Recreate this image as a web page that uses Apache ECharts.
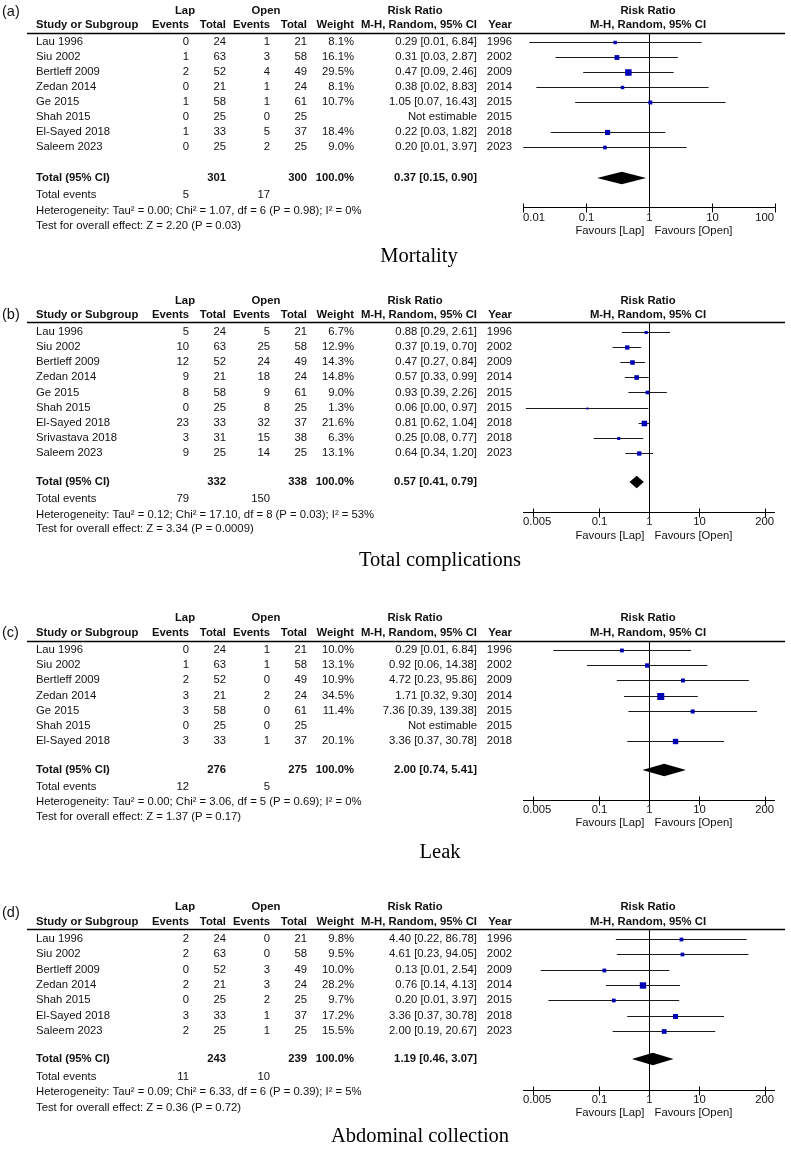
<!DOCTYPE html>
<html><head><meta charset="utf-8">
<script src="https://cdn.jsdelivr.net/npm/echarts@6/dist/echarts.min.js"></script>
<style>html,body{margin:0;padding:0;background:#fff}#c{width:791px;height:1149px}</style>
</head><body><div id="c"></div>
<script>
// ================= DATA =================
// (a) Mortality
const mortStudies = ['Lau 1996','Siu 2002','Bertleff 2009','Zedan 2014','Ge 2015','Shah 2015','El-Sayed 2018','Saleem 2023'];
const mortLapEvents = [0,1,2,0,1,0,1,0];
const mortLapTotal = [24,63,52,21,58,25,33,25];
const mortOpenEvents = [1,3,4,1,1,0,5,2];
const mortOpenTotal = [21,58,49,24,61,25,37,25];
const mortWeight = [8.1,16.1,29.5,8.1,10.7,null,18.4,9.0];
const mortRR = [0.29,0.31,0.47,0.38,1.05,null,0.22,0.20];
const mortLower = [0.0126,0.0328,0.0903,0.0163,0.0673,null,0.0276,0.0101];
const mortUpper = [6.84,2.87,2.46,8.83,16.43,null,1.82,3.97];
const mortYear = [1996,2002,2009,2014,2015,2015,2018,2023];
const mortTotals = [301,300];
const mortTotalEvents = [5,17];
const mortOverall = [0.37,0.15,0.90];
const mortHet = 'Heterogeneity: Tau\u00b2 = 0.00; Chi\u00b2 = 1.07, df = 6 (P = 0.98); I\u00b2 = 0%';
const mortTest = 'Test for overall effect: Z = 2.20 (P = 0.03)';

// (b) Total complications
const compStudies = ['Lau 1996','Siu 2002','Bertleff 2009','Zedan 2014','Ge 2015','Shah 2015','El-Sayed 2018','Srivastava 2018','Saleem 2023'];
const compLapEvents = [5,10,12,9,8,0,23,3,9];
const compLapTotal = [24,63,52,21,58,25,33,31,25];
const compOpenEvents = [5,25,24,18,9,8,32,15,14];
const compOpenTotal = [21,58,49,24,61,25,37,38,25];
const compWeight = [6.7,12.9,14.3,14.8,9.0,1.3,21.6,6.3,13.1];
const compRR = [0.88,0.37,0.47,0.57,0.93,0.06,0.81,0.25,0.64];
const compLower = [0.29,0.19,0.27,0.33,0.39,0.0036,0.62,0.08,0.34];
const compUpper = [2.61,0.70,0.84,0.99,2.26,0.97,1.04,0.77,1.20];
const compYear = [1996,2002,2009,2014,2015,2015,2018,2018,2023];
const compTotals = [332,338];
const compTotalEvents = [79,150];
const compOverall = [0.57,0.41,0.79];
const compHet = 'Heterogeneity: Tau\u00b2 = 0.12; Chi\u00b2 = 17.10, df = 8 (P = 0.03); I\u00b2 = 53%';
const compTest = 'Test for overall effect: Z = 3.34 (P = 0.0009)';

// (c) Leak
const leakStudies = ['Lau 1996','Siu 2002','Bertleff 2009','Zedan 2014','Ge 2015','Shah 2015','El-Sayed 2018'];
const leakLapEvents = [0,1,2,3,3,0,3];
const leakLapTotal = [24,63,52,21,58,25,33];
const leakOpenEvents = [1,1,0,2,0,0,1];
const leakOpenTotal = [21,58,49,24,61,25,37];
const leakWeight = [10.0,13.1,10.9,34.5,11.4,null,20.1];
const leakRR = [0.29,0.92,4.72,1.71,7.36,null,3.36];
const leakLower = [0.0126,0.059,0.23,0.32,0.39,null,0.37];
const leakUpper = [6.84,14.38,95.86,9.30,139.38,null,30.78];
const leakYear = [1996,2002,2009,2014,2015,2015,2018];
const leakTotals = [276,275];
const leakTotalEvents = [12,5];
const leakOverall = [2.00,0.74,5.41];
const leakHet = 'Heterogeneity: Tau\u00b2 = 0.00; Chi\u00b2 = 3.06, df = 5 (P = 0.69); I\u00b2 = 0%';
const leakTest = 'Test for overall effect: Z = 1.37 (P = 0.17)';

// (d) Abdominal collection
const collStudies = ['Lau 1996','Siu 2002','Bertleff 2009','Zedan 2014','Shah 2015','El-Sayed 2018','Saleem 2023'];
const collLapEvents = [2,2,0,2,0,3,2];
const collLapTotal = [24,63,52,21,25,33,25];
const collOpenEvents = [0,0,3,3,2,1,1];
const collOpenTotal = [21,58,49,24,25,37,25];
const collWeight = [9.8,9.5,10.0,28.2,9.7,17.2,15.5];
const collRR = [4.40,4.61,0.13,0.76,0.20,3.36,2.00];
const collLower = [0.22,0.23,0.0071,0.14,0.0101,0.37,0.19];
const collUpper = [86.78,94.05,2.54,4.13,3.97,30.78,20.67];
const collYear = [1996,2002,2009,2014,2015,2018,2023];
const collTotals = [243,239];
const collTotalEvents = [11,10];
const collOverall = [1.19,0.46,3.07];
const collHet = 'Heterogeneity: Tau\u00b2 = 0.09; Chi\u00b2 = 6.33, df = 6 (P = 0.39); I\u00b2 = 5%';
const collTest = 'Test for overall effect: Z = 0.36 (P = 0.72)';

// axis ticks
const ticksA = [0.01,0.1,1,10,100];
const tickLabelsA = ['0.01','0.1','1','10','100'];
const ticksB = [0.005,0.1,1,10,200];
const tickLabelsB = ['0.005','0.1','1','10','200'];

const panelLetters = ['(a)','(b)','(c)','(d)'];
const panelTitles = ['Mortality','Total complications','Leak','Abdominal collection'];

// ================= BUILD =================
const panels = [
  {studies:mortStudies, lapE:mortLapEvents, lapT:mortLapTotal, openE:mortOpenEvents, openT:mortOpenTotal, weight:mortWeight, rr:mortRR, lo:mortLower, hi:mortUpper, year:mortYear, totals:mortTotals, totEv:mortTotalEvents, overall:mortOverall, het:mortHet, test:mortTest, ticks:ticksA, tickLabels:tickLabelsA},
  {studies:compStudies, lapE:compLapEvents, lapT:compLapTotal, openE:compOpenEvents, openT:compOpenTotal, weight:compWeight, rr:compRR, lo:compLower, hi:compUpper, year:compYear, totals:compTotals, totEv:compTotalEvents, overall:compOverall, het:compHet, test:compTest, ticks:ticksB, tickLabels:tickLabelsB},
  {studies:leakStudies, lapE:leakLapEvents, lapT:leakLapTotal, openE:leakOpenEvents, openT:leakOpenTotal, weight:leakWeight, rr:leakRR, lo:leakLower, hi:leakUpper, year:leakYear, totals:leakTotals, totEv:leakTotalEvents, overall:leakOverall, het:leakHet, test:leakTest, ticks:ticksB, tickLabels:tickLabelsB},
  {studies:collStudies, lapE:collLapEvents, lapT:collLapTotal, openE:collOpenEvents, openT:collOpenTotal, weight:collWeight, rr:collRR, lo:collLower, hi:collUpper, year:collYear, totals:collTotals, totEv:collTotalEvents, overall:collOverall, het:collHet, test:collTest, ticks:ticksB, tickLabels:tickLabelsB}
];

// layout (rows are in units of study rows; positions in px for table columns)
const W = 791;
const COL = {study:36, lapE:189, lapT:226, openE:270, openT:307, weight:354, ci:477, year:512,
             lapHead:185, openHead:266, rrHead:415, plotHead:648, letter:2, ulFrom:27, ulTo:785};
const WIDE_MIN = Math.pow(10,-2.5), WIDE_MAX = Math.pow(10,2.5);
const LAYOUT = [
  {y0:42,  step:15.0,  h1:-2.07, h2:-1.13, ul:-0.6,  tot:9.07, ev:10.2,  het:11.27, test:12.27, axis:11.0,  tick:11.73, fav:12.6,  letter:-2.0,  xMin:0.01, xMax:100, titleX:419, titleY:257},
  {y0:332, step:15.1,  h1:-2.05, h2:-1.13, ul:-0.66, tot:9.93, ev:11.06, het:12.12, test:13.05, axis:11.92, tick:12.58, fav:13.5,  letter:-1.13, xMin:WIDE_MIN, xMax:WIDE_MAX, titleX:440, titleY:561},
  {y0:650, step:15.17, h1:-2.1,  h2:-1.12, ul:-0.59, tot:7.91, ev:9.03,  het:10.02, test:11.0,  axis:9.89,  tick:10.55, fav:11.4,  letter:-1.12, xMin:WIDE_MIN, xMax:WIDE_MAX, titleX:440, titleY:853},
  {y0:939, step:15.3,  h1:-2.09, h2:-1.11, ul:-0.65, tot:7.84, ev:9.02,  het:10.0,  test:11.05, axis:9.87,  tick:10.52, fav:11.37, letter:-1.7,  xMin:WIDE_MIN, xMax:WIDE_MAX, titleX:420, titleY:1137}
];
const PLOT_LEFT = 523, PLOT_WIDTH = 252;
const SANS = '"Liberation Sans", Arial, Helvetica, sans-serif';
const FS = 11.3;
const TXT = '#111';
const BLUE = '#0000b4';

function font(bold, size) { return (bold ? 'bold ' : '') + (size || FS) + 'px ' + SANS; }
function textEl(x, y, text, align, f) {
  return {type:'text', x:x, y:y, style:{text:text, font:f, fill:TXT, align:align, verticalAlign:'middle', textAlign:align, textVerticalAlign:'middle'}};
}
function ciText(r, l, h) { return r.toFixed(2) + ' [' + l.toFixed(2) + ', ' + h.toFixed(2) + ']'; }

function buildCells(P, L, k) {
  const cells = [];
  const T = (x, row, text, align, bold, size) => cells.push({kind:'text', x, row, text, align, bold, size});
  T(COL.letter, L.letter, panelLetters[k], 'left', false, 14.5);
  T(COL.lapHead, L.h1, 'Lap', 'center', true);
  T(COL.openHead, L.h1, 'Open', 'center', true);
  T(COL.rrHead, L.h1, 'Risk Ratio', 'center', true);
  T(COL.plotHead, L.h1, 'Risk Ratio', 'center', true);
  T(COL.study, L.h2, 'Study or Subgroup', 'left', true);
  T(COL.lapE, L.h2, 'Events', 'right', true);
  T(COL.lapT, L.h2, 'Total', 'right', true);
  T(COL.openE, L.h2, 'Events', 'right', true);
  T(COL.openT, L.h2, 'Total', 'right', true);
  T(COL.weight, L.h2, 'Weight', 'right', true);
  T(COL.ci, L.h2, 'M-H, Random, 95% CI', 'right', true);
  T(COL.year, L.h2, 'Year', 'right', true);
  T(COL.plotHead, L.h2, 'M-H, Random, 95% CI', 'center', true);
  cells.push({kind:'hline', x:COL.ulFrom, x2:COL.ulTo, row:L.ul});
  P.studies.forEach((s, i) => {
    T(COL.study, i, s, 'left');
    T(COL.lapE, i, String(P.lapE[i]), 'right');
    T(COL.lapT, i, String(P.lapT[i]), 'right');
    T(COL.openE, i, String(P.openE[i]), 'right');
    T(COL.openT, i, String(P.openT[i]), 'right');
    if (P.weight[i] != null) T(COL.weight, i, P.weight[i].toFixed(1) + '%', 'right');
    T(COL.ci, i, P.rr[i] == null ? 'Not estimable' : ciText(P.rr[i], P.lo[i], P.hi[i]), 'right');
    T(COL.year, i, String(P.year[i]), 'right');
  });
  T(COL.study, L.tot, 'Total (95% CI)', 'left', true);
  T(COL.lapT, L.tot, String(P.totals[0]), 'right', true);
  T(COL.openT, L.tot, String(P.totals[1]), 'right', true);
  T(COL.weight, L.tot, '100.0%', 'right', true);
  T(COL.ci, L.tot, ciText(P.overall[0], P.overall[1], P.overall[2]), 'right', true);
  T(COL.study, L.ev, 'Total events', 'left');
  T(COL.lapE, L.ev, String(P.totEv[0]), 'right');
  T(COL.openE, L.ev, String(P.totEv[1]), 'right');
  T(COL.study, L.het, P.het, 'left');
  T(COL.study, L.test, P.test, 'left');
  return cells;
}

const grid = [], xAxis = [], yAxis = [], series = [], graphic = [];
panels.forEach((P, k) => {
  const L = LAYOUT[k];
  const yMin = -3, yMax = L.fav + 1.5;
  const top = L.y0 + yMin * L.step, height = (yMax - yMin) * L.step;
  grid.push({left:0, width:W, top:top, height:height, outerBoundsMode:'none'});
  grid.push({left:PLOT_LEFT, width:PLOT_WIDTH, top:top, height:height, outerBoundsMode:'none'});
  xAxis.push({type:'value', gridIndex:2*k, min:0, max:W, show:false});
  xAxis.push({type:'log', logBase:10, gridIndex:2*k+1, min:L.xMin, max:L.xMax, show:false});
  yAxis.push({type:'value', gridIndex:2*k, min:yMin, max:yMax, inverse:true, show:false});
  yAxis.push({type:'value', gridIndex:2*k+1, min:yMin, max:yMax, inverse:true, show:false});
  const ti = 2*k, pi = 2*k+1;

  // table text
  const cells = buildCells(P, L, k);
  series.push({
    type:'custom', xAxisIndex:ti, yAxisIndex:ti, silent:true, animation:false,
    data: cells.map(c => [c.x, c.row]),
    renderItem: (params, api) => {
      const c = cells[params.dataIndex];
      const p = api.coord([api.value(0), api.value(1)]);
      if (c.kind === 'hline') {
        const p2 = api.coord([c.x2, api.value(1)]);
        const y = Math.round(p[1]) + 0.5;
        return {type:'line', shape:{x1:p[0], y1:y, x2:p2[0], y2:y}, style:{stroke:'#000', lineWidth:1.3}};
      }
      return textEl(p[0], p[1], c.text, c.align, font(c.bold, c.size));
    }
  });

  // reference line at 1 and axis line
  series.push({
    type:'custom', xAxisIndex:pi, yAxisIndex:pi, silent:true, animation:false,
    data: [[1, L.ul, L.axis]],
    renderItem: (params, api) => {
      const pTop = api.coord([api.value(0), api.value(1)]);
      const pBot = api.coord([api.value(0), api.value(2)]);
      const pL = api.coord([L.xMin, api.value(2)]);
      const pR = api.coord([L.xMax, api.value(2)]);
      const x = Math.round(pTop[0]) + 0.5, y = Math.round(pBot[1]) + 0.5;
      const favY = api.coord([1, L.fav])[1];
      return {type:'group', children:[
        {type:'line', shape:{x1:x, y1:pTop[1], x2:x, y2:y}, style:{stroke:'#000', lineWidth:1}},
        {type:'line', shape:{x1:pL[0], y1:y, x2:pR[0], y2:y}, style:{stroke:'#000', lineWidth:1}},
        textEl(x - 5, favY, 'Favours [Lap]', 'right', font(false)),
        textEl(x + 5, favY, 'Favours [Open]', 'left', font(false))
      ]};
    }
  });

  // ticks & tick labels
  series.push({
    type:'custom', xAxisIndex:pi, yAxisIndex:pi, silent:true, animation:false,
    data: P.ticks.map(t => [t, L.axis]),
    renderItem: (params, api) => {
      const i = params.dataIndex, n = P.ticks.length;
      const p = api.coord([api.value(0), api.value(1)]);
      const x = Math.round(p[0]) + 0.5, y = Math.round(p[1]) + 0.5;
      const ly = api.coord([api.value(0), L.tick])[1];
      let lx = x, al = 'center';
      if (i === 0) { lx = api.coord([L.xMin, L.axis])[0]; al = 'left'; }
      if (i === n - 1) { lx = api.coord([L.xMax, L.axis])[0] - 1; al = 'right'; }
      return {type:'group', children:[
        {type:'line', shape:{x1:x, y1:y - 4, x2:x, y2:y + 5}, style:{stroke:'#000', lineWidth:1}},
        textEl(lx, ly, P.tickLabels[i], al, font(false))
      ]};
    }
  });

  // study CIs and weighted squares
  const fdata = [];
  P.rr.forEach((r, i) => { if (r != null) fdata.push([r, P.lo[i], P.hi[i], i, P.weight[i]]); });
  series.push({
    type:'custom', xAxisIndex:pi, yAxisIndex:pi, silent:true, animation:false,
    encode:{x:[0,1,2], y:3},
    data: fdata,
    renderItem: (params, api) => {
      const row = api.value(3);
      const pe = api.coord([api.value(0), row]);
      const pl = api.coord([api.value(1), row]);
      const ph = api.coord([api.value(2), row]);
      const s = Math.max(2, 1.2 * Math.sqrt(api.value(4)));
      const y = Math.round(pe[1]) + 0.5;
      return {type:'group', children:[
        {type:'line', shape:{x1:pl[0], y1:y, x2:ph[0], y2:y}, style:{stroke:'#1a1a1a', lineWidth:1}},
        {type:'rect', shape:{x:pe[0] - s/2, y:y - s/2, width:s, height:s}, style:{fill:BLUE}}
      ]};
    }
  });

  // overall diamond
  series.push({
    type:'custom', xAxisIndex:pi, yAxisIndex:pi, silent:true, animation:false,
    encode:{x:[0,1,2], y:3},
    data: [[P.overall[0], P.overall[1], P.overall[2], L.tot]],
    renderItem: (params, api) => {
      const row = api.value(3);
      const pe = api.coord([api.value(0), row]);
      const pl = api.coord([api.value(1), row]);
      const ph = api.coord([api.value(2), row]);
      const h = 6.3;
      return {type:'polygon', shape:{points:[[pl[0], pe[1]], [pe[0], pe[1] - h], [ph[0], pe[1]], [pe[0], pe[1] + h]]}, style:{fill:'#000'}};
    }
  });

  graphic.push({type:'text', x:L.titleX, y:L.titleY, silent:true,
    style:{text:panelTitles[k], font:'20.5px "Liberation Serif", "Times New Roman", serif', fill:'#000', align:'center', verticalAlign:'middle', textAlign:'center', textVerticalAlign:'middle'}});
});

const chart = echarts.init(document.getElementById('c'), null, {renderer:'canvas'});
chart.setOption({
  backgroundColor:'#fff',
  animation:false,
  grid: grid, xAxis: xAxis, yAxis: yAxis, series: series, graphic: graphic
});
</script>
</body></html>
